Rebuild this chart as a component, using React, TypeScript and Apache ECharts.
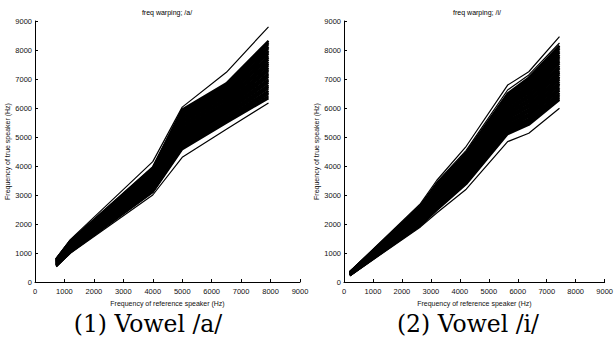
import React, { useEffect, useRef } from "react";
import * as echarts from "echarts";

// Breakpoint frequencies of the reference speaker (Hz)
const X_A = [720, 1200, 4000, 5000, 6500, 7930];
const X_I = [200, 2640, 3200, 4220, 5650, 6380, 7440];

// Warping functions for vowel /a/ (true speaker frequency at each breakpoint)
const LINES_A_OUTER = [
  [810, 1460, 4150, 6030, 7230, 8800],
  [520, 990, 3000, 4300, 5270, 6170],
];
const LINES_A = [
  [550, 1020, 3100, 4580, 5490, 6340],
  [558, 1034, 3130, 4628, 5538, 6409],
  [567, 1048, 3160, 4676, 5585, 6479],
  [574, 1060, 3185, 4717, 5640, 6538],
  [581, 1072, 3211, 4758, 5667, 6597],
  [591, 1088, 3245, 4813, 5721, 6677],
  [598, 1100, 3270, 4854, 5762, 6736],
  [605, 1112, 3296, 4895, 5803, 6795],
  [615, 1128, 3330, 4950, 5857, 6875],
  [622, 1140, 3355, 4991, 5898, 6934],
  [629, 1152, 3381, 5032, 5939, 6993],
  [639, 1168, 3415, 5087, 5993, 7073],
  [646, 1180, 3440, 5128, 6034, 7132],
  [653, 1192, 3466, 5169, 6075, 7191],
  [663, 1208, 3500, 5224, 6129, 7271],
  [670, 1220, 3525, 5265, 6170, 7330],
  [677, 1232, 3551, 5306, 6211, 7389],
  [687, 1248, 3585, 5361, 6265, 7469],
  [694, 1260, 3610, 5402, 6306, 7528],
  [701, 1272, 3636, 5443, 6347, 7587],
  [711, 1288, 3670, 5498, 6401, 7667],
  [718, 1300, 3695, 5539, 6442, 7726],
  [725, 1312, 3721, 5580, 6483, 7785],
  [735, 1328, 3755, 5635, 6537, 7865],
  [742, 1340, 3780, 5676, 6578, 7924],
  [749, 1352, 3806, 5717, 6619, 7983],
  [759, 1368, 3840, 5772, 6673, 8063],
  [766, 1380, 3865, 5813, 6714, 8122],
  [776, 1396, 3899, 5868, 6768, 8201],
  [783, 1408, 3925, 5909, 6809, 8261],
  [790, 1420, 3950, 5950, 6850, 8320],
];

// Warping functions for vowel /i/
const LINES_I_OUTER = [
  [360, 2700, 3500, 4680, 6790, 7250, 8460],
  [350, 2650, 3430, 4540, 6620, 7140, 8240],
  [210, 1900, 2380, 3200, 4840, 5130, 5990],
];
const LINES_I = [
  [230, 1950, 2480, 3380, 5100, 5420, 6280],
  [234, 1973, 2512, 3418, 5149, 5477, 6345],
  [238, 1997, 2543, 3456, 5198, 5534, 6411],
  [241, 2017, 2570, 3488, 5240, 5583, 6467],
  [244, 2037, 2597, 3520, 5282, 5632, 6523],
  [249, 2064, 2633, 3564, 5338, 5697, 6598],
  [252, 2084, 2660, 3596, 5380, 5746, 6654],
  [255, 2104, 2687, 3628, 5422, 5795, 6710],
  [260, 2131, 2723, 3672, 5478, 5860, 6785],
  [263, 2151, 2750, 3704, 5520, 5909, 6841],
  [266, 2171, 2777, 3736, 5562, 5958, 6897],
  [271, 2198, 2813, 3780, 5618, 6023, 6972],
  [274, 2218, 2840, 3812, 5660, 6072, 7028],
  [277, 2238, 2867, 3844, 5702, 6121, 7084],
  [282, 2265, 2903, 3888, 5758, 6186, 7159],
  [285, 2285, 2930, 3920, 5800, 6235, 7215],
  [288, 2305, 2957, 3952, 5842, 6284, 7271],
  [293, 2332, 2993, 3996, 5898, 6349, 7346],
  [296, 2352, 3020, 4028, 5940, 6398, 7402],
  [299, 2372, 3047, 4060, 5982, 6447, 7458],
  [304, 2399, 3083, 4104, 6038, 6512, 7533],
  [307, 2419, 3110, 4136, 6080, 6561, 7589],
  [310, 2439, 3137, 4168, 6122, 6610, 7645],
  [315, 2466, 3173, 4212, 6178, 6675, 7720],
  [318, 2486, 3200, 4244, 6220, 6724, 7776],
  [321, 2506, 3227, 4276, 6262, 6773, 7832],
  [326, 2533, 3263, 4320, 6318, 6838, 7907],
  [329, 2553, 3290, 4352, 6360, 6887, 7963],
  [333, 2580, 3326, 4395, 6416, 6952, 8038],
  [337, 2600, 3353, 4428, 6458, 7001, 8094],
  [340, 2620, 3380, 4460, 6500, 7050, 8150],
];

const TITLES = ["freq warping; /a/", "freq warping; /i/"];
const CAPTIONS = ["(1) Vowel /a/", "(2) Vowel /i/"];
const X_NAME = "Frequency of reference speaker (Hz)";
const Y_NAME = "Frequency of true speaker (Hz)";

const SANS = "'Liberation Sans', Arial, sans-serif";

function mkSeries(xs: number[], lines: number[][], idx: number, width: number) {
  return lines.map((ys) => ({
    type: "line",
    xAxisIndex: idx,
    yAxisIndex: idx,
    data: ys.map((y, i) => [xs[i], y]),
    symbol: "none",
    showSymbol: false,
    silent: true,
    lineStyle: { color: "#000", width },
    emphasis: { disabled: true },
  }));
}

function axisCommon(margin: number) {
  return {
    type: "value",
    min: 0,
    max: 9000,
    interval: 1000,
    axisLine: { show: true, lineStyle: { color: "#000", width: 1 } },
    axisTick: { show: true, inside: true, length: 3, lineStyle: { color: "#000" } },
    splitLine: { show: false },
    axisLabel: {
      color: "#111",
      fontSize: 7.5,
      fontFamily: SANS,
      margin,
      formatter: (v: number) => String(v),
    },
    nameLocation: "middle",
    nameTextStyle: { color: "#111", fontSize: 7, fontFamily: SANS },
  };
}

export default function App() {
  const ref = useRef<HTMLDivElement>(null);
  useEffect(() => {
    if (!ref.current) return;
    const chart = echarts.init(ref.current, null, { renderer: "svg" });
    const grids = [
      { left: 35, top: 21, width: 265, height: 261 },
      { left: 344, top: 21, width: 265, height: 261 },
    ];
    const xAxis = [0, 1].map((g) => ({
      ...axisCommon(5),
      gridIndex: g,
      name: X_NAME,
      nameGap: 18,
    }));
    const yAxis = [0, 1].map((g) => ({
      ...axisCommon(3),
      gridIndex: g,
      name: Y_NAME,
      nameGap: 24,
    }));
    const series = [
      ...mkSeries(X_A, LINES_A, 0, 2.3),
      ...mkSeries(X_A, LINES_A_OUTER, 0, 1.2),
      ...mkSeries(X_I, LINES_I, 1, 2.3),
      ...mkSeries(X_I, LINES_I_OUTER, 1, 1.2),
    ];
    const titleX = [167, 477];
    const captionX = [148, 468];
    const graphic = [
      ...TITLES.map((t, i) => ({
        type: "text",
        x: titleX[i],
        y: 12,
        style: {
          text: t,
          fill: "#000",
          font: `7px ${SANS}`,
          textAlign: "center",
          textVerticalAlign: "middle",
        },
      })),
      ...CAPTIONS.map((t, i) => ({
        type: "text",
        x: captionX[i],
        y: 324,
        style: {
          text: t,
          fill: "#000",
          font: "23.5px 'DejaVu Serif', serif",
          textAlign: "center",
          textVerticalAlign: "middle",
        },
      })),
    ];
    chart.setOption({
      animation: false,
      backgroundColor: "#fff",
      grid: grids,
      xAxis,
      yAxis,
      series,
      graphic,
    });
    return () => chart.dispose();
  }, []);
  return (
    <div
      ref={ref}
      style={{ position: "fixed", left: 0, top: 0, width: 616, height: 345, background: "#fff" }}
    />
  );
}
